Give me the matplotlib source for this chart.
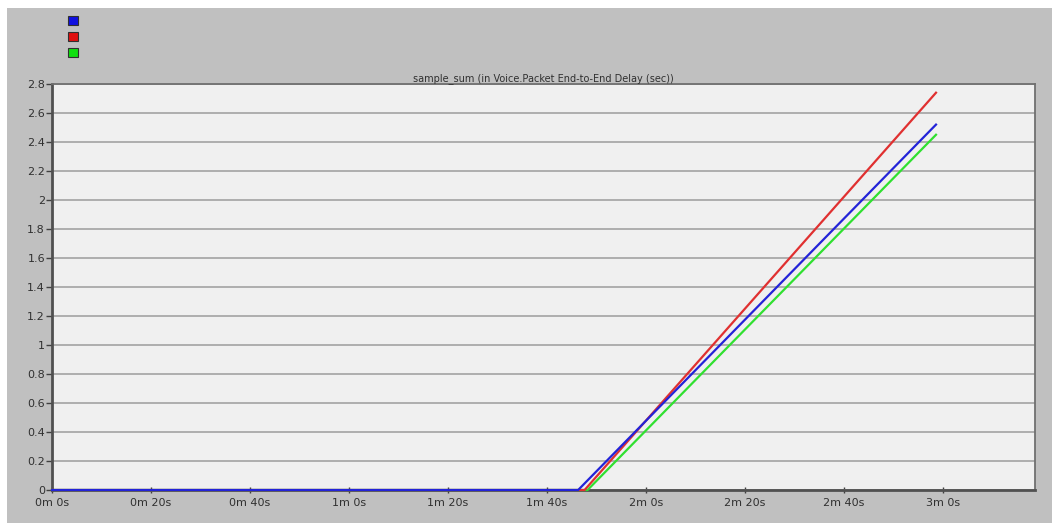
import matplotlib
matplotlib.use('Agg')
import matplotlib.pyplot as plt
from matplotlib.patches import Rectangle

# time (s) and sample_sum values for the three scenarios
t_blue = [0, 106.3, 178.6]
v_blue = [0, 0, 2.52]
t_red = [0, 107.6, 178.6]
v_red = [0, 0, 2.74]
t_green = [0, 108.2, 178.6]
v_green = [0, 0, 2.45]

xticks = [0, 20, 40, 60, 80, 100, 120, 140, 160, 180]
xlabels = ['0m 0s', '0m 20s', '0m 40s', '1m 0s', '1m 20s', '1m 40s',
           '2m 0s', '2m 20s', '2m 40s', '3m 0s']
yticks = [0, 0.2, 0.4, 0.6, 0.8, 1, 1.2, 1.4, 1.6, 1.8, 2, 2.2, 2.4, 2.6, 2.8]
ylabels = ['0', '0.2', '0.4', '0.6', '0.8', '1', '1.2', '1.4', '1.6', '1.8',
           '2', '2.2', '2.4', '2.6', '2.8']

colors = ['#2323d8', '#e03030', '#30e030']

fig = plt.figure(figsize=(10.6, 5.25), dpi=100)
fig.patch.set_facecolor('white')
# gray panel behind everything
fig.patches.append(Rectangle((7 / 1060, 2 / 525), 1045 / 1060, 515 / 525,
                             transform=fig.transFigure, facecolor='#c0c0c0',
                             edgecolor='none', zorder=-10))

ax = fig.add_axes([52 / 1060, 1 - 490 / 525, 983 / 1060, 406 / 525])
ax.set_facecolor('#f0f0f0')

ax.plot(t_green, v_green, color=colors[2], lw=1.6, zorder=3, clip_on=False)
ax.plot(t_red, v_red, color=colors[1], lw=1.6, zorder=4, clip_on=False)
ax.plot(t_blue, v_blue, color=colors[0], lw=1.6, zorder=5, clip_on=False)

ax.set_xlim(0, 198.6)
ax.set_ylim(0, 2.8)
ax.set_xticks(xticks)
ax.set_xticklabels(xlabels)
ax.set_yticks(yticks)
ax.set_yticklabels(ylabels)
ax.tick_params(axis='both', labelsize=8, colors='#404040', labelcolor='#303030',
               length=4, width=1)
ax.tick_params(axis='x', direction='inout', pad=4)
ax.tick_params(axis='y', direction='out', pad=1)
ax.yaxis.grid(True, color='#a8a8a8', lw=1.3)
ax.set_axisbelow(True)

for side in ['left', 'bottom']:
    ax.spines[side].set_color('#505050')
    ax.spines[side].set_linewidth(2)
for side in ['top', 'right']:
    ax.spines[side].set_color('#707070')
    ax.spines[side].set_linewidth(1.3)

ax.set_title('sample_sum (in Voice.Packet End-to-End Delay (sec))',
             fontsize=7, color='#303030', pad=2)

# legend squares with no labels
for i, c in enumerate(['#1010e0', '#e01010', '#10e010']):
    y = 1 - (20 + 16 * i) / 525
    fig.patches.append(Rectangle((68 / 1060, y - 5 / 525), 10 / 1060, 9 / 525,
                                 transform=fig.transFigure, facecolor=c,
                                 edgecolor='#303030', lw=0.8))

fig.savefig('out.png', dpi=100, facecolor=fig.get_facecolor())
